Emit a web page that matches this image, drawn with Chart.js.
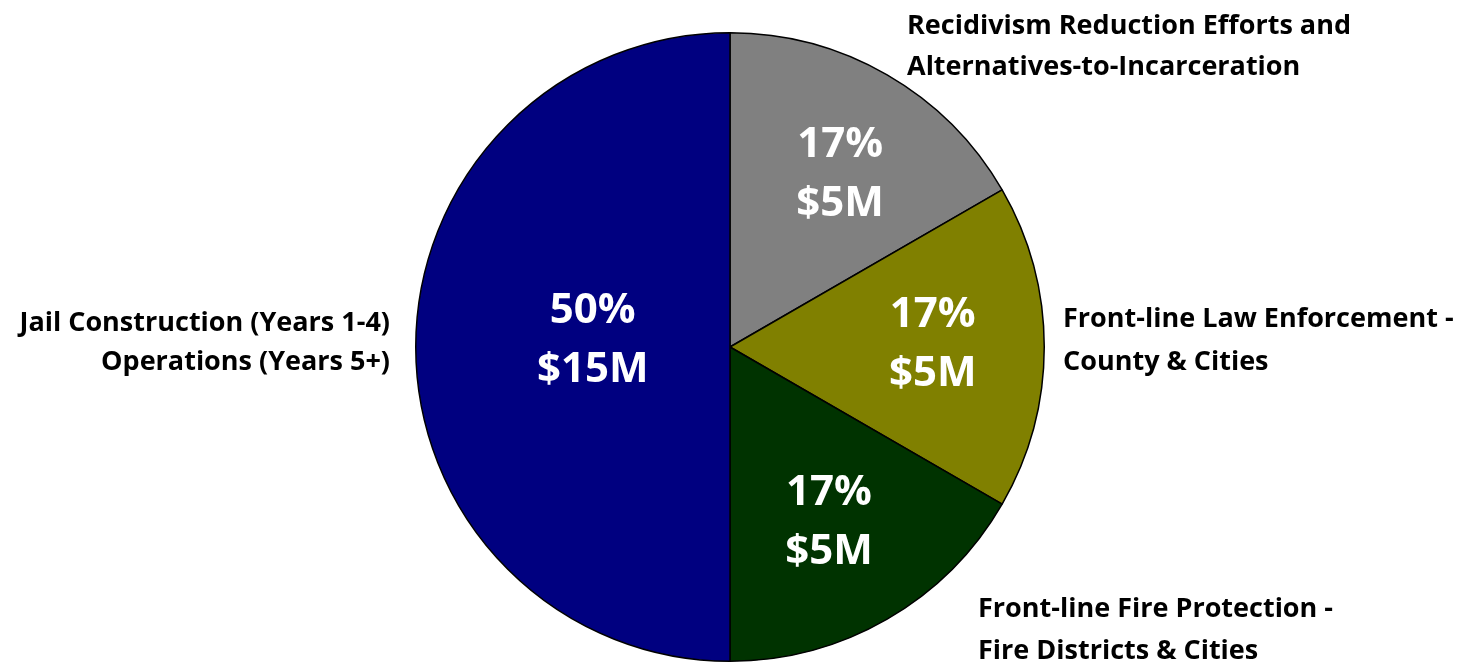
<!DOCTYPE html>
<html><head><meta charset="utf-8">
<script src="https://cdn.jsdelivr.net/npm/chart.js@4.4.0/dist/chart.umd.min.js"></script>
<style>html,body{margin:0;padding:0;background:#fff}#wrap{width:1470px;height:665px}</style>
</head><body><div id="wrap"><canvas id="c" width="1470" height="665"></canvas></div>
<script>
const categories = [
  ["Recidivism Reduction Efforts and","Alternatives-to-Incarceration"],
  ["Front-line Law Enforcement -","County & Cities"],
  ["Front-line Fire Protection -","Fire Districts & Cities"],
  ["Jail Construction (Years 1-4)","Operations (Years 5+)"]
];
const values = [5, 5, 5, 15];
const percentLabels = ["17%","17%","17%","50%"];
const amountLabels = ["$5M","$5M","$5M","$15M"];
const colors = ["#808080","#808000","#003300","#000080"];

const FONT = "'Open Sans', Lato, sans-serif";
// outside label placement relative to pie center (cap-centre of first line)
const outside = [
  {dx:177, dy:-323, gap:41, align:"left"},
  {dx:333, dy:-29.5, gap:43, align:"left"},
  {dx:248, dy:260.5, gap:42, align:"left"},
  {dx:-340, dy:-26, gap:39, align:"right"}
];
const innerFrac = [0.65, 0.645, 0.63, 0.44];
const innerNudge = [[8,1.5],[0,-6],[0,1],[1,-9.5]];

const labelPlugin = {
  id:'labels',
  afterDatasetsDraw(chart){
    const ctx = chart.ctx;
    const meta = chart.getDatasetMeta(0);
    meta.data.forEach((arc,i)=>{
      const p = arc.getProps(['x','y','startAngle','endAngle','outerRadius']);
      const mid = (p.startAngle+p.endAngle)/2;
      const r = p.outerRadius*innerFrac[i];
      const cx = p.x + Math.cos(mid)*r + innerNudge[i][0];
      const cy = p.y + Math.sin(mid)*r + innerNudge[i][1];
      ctx.save();
      ctx.fillStyle = "#fff";
      ctx.font = "bold 42px " + FONT;
      ctx.textAlign = "center"; ctx.textBaseline = "alphabetic";
      ctx.fillText(percentLabels[i], cx, cy-29.5+15);
      ctx.fillText(amountLabels[i], cx, cy+29.5+15);
      ctx.fillStyle = "#000";
      ctx.font = "bold 27px " + FONT;
      const o = outside[i];
      ctx.textAlign = o.align;
      categories[i].forEach((line,j)=>{
        ctx.fillText(line, p.x + o.dx, p.y + o.dy + j*o.gap + 9.6);
      });
      ctx.restore();
    });
  }
};

new Chart(document.getElementById('c'), {
  type:'pie',
  data:{ labels: categories.map(c=>c.join(' ')), datasets:[{ data: values, backgroundColor: colors, borderColor:"#000", borderWidth:1.5 }]},
  options:{
    responsive:false, animation:false,
    layout:{ padding:{ top:32, bottom:3, left:415, right:425 } },
    plugins:{ legend:{display:false}, tooltip:{enabled:false} }
  },
  plugins:[labelPlugin]
});
</script></body></html>
